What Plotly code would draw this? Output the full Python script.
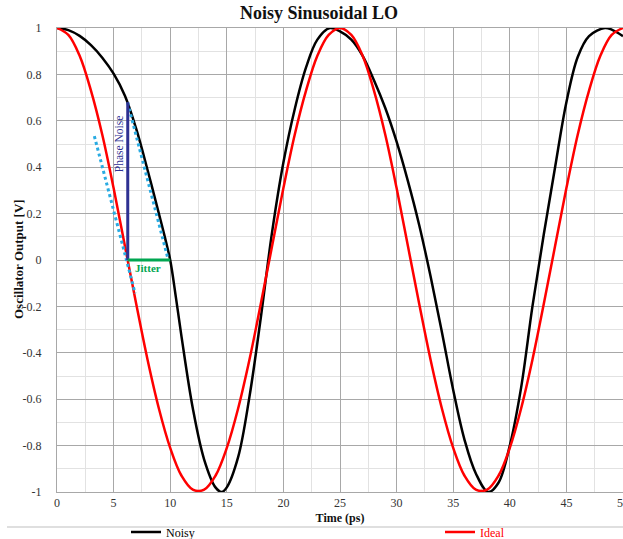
import plotly.graph_objects as go

# ---- data ----
t_ideal = list(range(0, 51))
y_ideal = [1.0, 0.97, 0.88, 0.73, 0.54, 0.31, 0.06, -0.19, -0.43, -0.64, -0.81, -0.93, -0.99,
           -0.99, -0.93, -0.81, -0.64, -0.43, -0.19, 0.06, 0.31, 0.54, 0.73, 0.88, 0.97, 1.0,
           0.97, 0.88, 0.73, 0.54, 0.31, 0.06, -0.19, -0.43, -0.64, -0.81, -0.93, -0.99,
           -0.99, -0.93, -0.81, -0.64, -0.43, -0.19, 0.06, 0.31, 0.54, 0.73, 0.88, 0.97, 1.0]

t_noisy = [0, 1, 2, 3, 4, 5, 6, 7, 8, 9, 9.5, 10, 10.5, 11, 12, 13, 14, 14.55, 15, 16, 17, 18,
           19, 20, 21, 22, 23, 24.1, 25, 26, 27, 28, 29, 30, 31, 32, 33, 34, 35, 36, 37, 38.1,
           39, 40, 41, 42, 43, 44, 45, 46, 47, 48.4, 49, 50]
y_noisy = [1.0, 0.991, 0.966, 0.926, 0.872, 0.803, 0.708, 0.565, 0.388, 0.2, 0.104, 0.0, -0.16,
           -0.33, -0.64, -0.86, -0.98, -1.0, -0.98, -0.85, -0.59, -0.25, 0.12, 0.42, 0.65, 0.83,
           0.95, 1.0, 0.985, 0.95, 0.88, 0.775, 0.655, 0.51, 0.34, 0.15, -0.07, -0.31, -0.56,
           -0.775, -0.92, -1.0, -0.96, -0.8, -0.55, -0.2, 0.11, 0.40, 0.68, 0.875, 0.965, 1.0,
           0.993, 0.965]

# annotation marks
phase_noise_x = [6.25, 6.25]
phase_noise_y = [0.0, 0.68]
jitter_x = [6.25, 10.0]
jitter_y = [0.0, 0.0]
tangent1_x = [3.3, 6.9]
tangent1_y = [0.534, -0.144]
tangent2_x = [6.24, 9.83]
tangent2_y = [0.678, 0.0]

x_ticks = [0, 5, 10, 15, 20, 25, 30, 35, 40, 45, 50]
y_ticks = [-1, -0.8, -0.6, -0.4, -0.2, 0, 0.2, 0.4, 0.6, 0.8, 1]
y_tick_text = ["-1", "-0.8", "-0.6", "-0.4", "-0.2", "0", "0.2", "0.4", "0.6", "0.8", "1"]

FONT = "Liberation Serif"
NAVY = "#2e3192"
GREEN = "#00a651"
CYAN = "#29abe2"

W, H = 623, 539
L, R, T, B = 57, 0, 28, 47
PW, PH = W - L - R, H - T - B


def px_to_paper_x(px):
    return (px - L) / PW


def px_to_paper_y(py):
    return (H - B - py) / PH


fig = go.Figure()
fig.add_trace(go.Scatter(x=t_noisy, y=y_noisy, mode="lines", name="Noisy", legend="legend",
                         line=dict(color="black", width=2.5, shape="spline", smoothing=1.0)))
fig.add_trace(go.Scatter(x=t_ideal, y=y_ideal, mode="lines", legend="legend2",
                         name="<span style='color:#ff0000'>Ideal</span>",
                         line=dict(color="#ff0000", width=2.5, shape="spline", smoothing=1.0)))
fig.add_trace(go.Scatter(x=tangent1_x, y=tangent1_y, mode="lines", showlegend=False,
                         line=dict(color=CYAN, width=3, dash="dot")))
fig.add_trace(go.Scatter(x=tangent2_x, y=tangent2_y, mode="lines", showlegend=False,
                         line=dict(color=CYAN, width=3, dash="dot")))
fig.add_trace(go.Scatter(x=phase_noise_x, y=phase_noise_y, mode="lines", showlegend=False,
                         line=dict(color=NAVY, width=3)))
fig.add_trace(go.Scatter(x=jitter_x, y=jitter_y, mode="lines", showlegend=False,
                         line=dict(color=GREEN, width=3)))

fig.add_annotation(x=5.5, y=0.5, text="Phase Noise", textangle=-90, showarrow=False,
                   font=dict(family=FONT, size=11.5, color=NAVY))
fig.add_annotation(x=8.0, y=-0.035, text="<b>Jitter</b>", showarrow=False,
                   font=dict(family=FONT, size=11, color=GREEN))
# y-axis title placed as an annotation for exact position
fig.add_annotation(xref="paper", yref="paper", x=px_to_paper_x(18), y=px_to_paper_y(259),
                   xanchor="center", yanchor="middle", textangle=-90, showarrow=False,
                   text="<b>Oscillator Output [V]</b>",
                   font=dict(family=FONT, size=13, color="#111111"))

# legend separator
fig.add_shape(type="line", xref="paper", yref="paper",
              x0=px_to_paper_x(7), x1=1.0, y0=px_to_paper_y(527), y1=px_to_paper_y(527),
              line=dict(color="#bfbfbf", width=1))

leg_common = dict(orientation="h", xanchor="left", yanchor="middle", y=px_to_paper_y(532),
                  font=dict(family=FONT, size=12, color="black"), bgcolor="rgba(0,0,0,0)",
                  borderwidth=0)

fig.update_layout(
    width=W, height=H,
    margin=dict(l=L, r=R, t=T, b=B, autoexpand=False),
    paper_bgcolor="white", plot_bgcolor="white",
    font=dict(family=FONT, size=12, color="#333333"),
    title=dict(text="<b>Noisy Sinusoidal LO</b>", x=319 / W, xanchor="center",
               y=1 - 13 / H, yanchor="middle", font=dict(family=FONT, size=18, color="#111111")),
    legend=dict(x=px_to_paper_x(126), **leg_common),
    legend2=dict(x=px_to_paper_x(440), **leg_common),
    showlegend=True,
)
fig.update_xaxes(range=[0, 50], tickvals=x_ticks, ticktext=[str(v) for v in x_ticks],
                 automargin=False, ticklabeloverflow="allow",
                 showgrid=True, gridcolor="#a8a8a8", gridwidth=1,
                 minor=dict(dtick=2.5, showgrid=True, gridcolor="#e2e2e2"),
                 zeroline=False, showline=True, linecolor="#a8a8a8", mirror=True,
                 ticks="", tickfont=dict(family=FONT, size=12, color="#333333"),
                 title=dict(text="<b>Time (ps)</b>", standoff=4,
                            font=dict(family=FONT, size=12, color="#111111")))
fig.update_yaxes(range=[-1, 1], tickvals=y_ticks, ticktext=y_tick_text,
                 automargin=False,
                 showgrid=True, gridcolor="#a8a8a8", gridwidth=1,
                 minor=dict(dtick=0.1, showgrid=True, gridcolor="#e2e2e2"),
                 zeroline=False, showline=True, linecolor="#a8a8a8", mirror=True,
                 ticks="", ticklabelstandoff=12,
                 tickfont=dict(family=FONT, size=12, color="#333333"))

fig.write_html("out.html", config={"displayModeBar": False},
               post_script="document.body.style.margin='0';document.body.style.padding='0';")
